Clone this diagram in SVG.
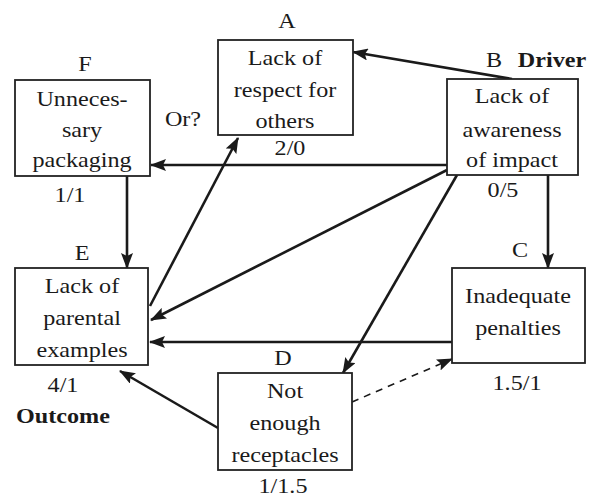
<svg xmlns="http://www.w3.org/2000/svg" width="590" height="500" viewBox="0 0 590 500">
  <style>
    .box { fill: #ffffff; stroke: #222; stroke-width: 1.8; }
    .t { font-family: 'Liberation Serif', 'DejaVu Serif', serif; font-size: 21px; fill: #1a1a1a; text-anchor: middle; }
    .b { font-weight: bold; }
    .edge { fill: none; stroke: #1a1a1a; stroke-width: 2.6; }
    .dash { fill: none; stroke: #1a1a1a; stroke-width: 1.6; stroke-dasharray: 7 6; }
  </style>
  <defs>
    <marker id="arrow" markerUnits="userSpaceOnUse" markerWidth="16" markerHeight="12" refX="15" refY="6" orient="auto">
      <path d="M0,0 L16,6 L0,12 L3,6 Z" fill="#1a1a1a"/>
    </marker>
  </defs>
  <rect width="590" height="500" fill="#ffffff"/>

  <g id="connectors">
    <line class="edge" x1="512" y1="79" x2="353" y2="52" marker-end="url(#arrow)"/>
    <line class="edge" x1="447" y1="165" x2="151" y2="165" marker-end="url(#arrow)"/>
    <line class="edge" x1="127" y1="176" x2="127" y2="268" marker-end="url(#arrow)"/>
    <line class="edge" x1="150" y1="306" x2="238" y2="138" marker-end="url(#arrow)"/>
    <line class="edge" x1="447" y1="170" x2="151" y2="320" marker-end="url(#arrow)"/>
    <line class="edge" x1="452" y1="342" x2="150" y2="342" marker-end="url(#arrow)"/>
    <line class="edge" x1="218" y1="428" x2="120" y2="371" marker-end="url(#arrow)"/>
    <line class="edge" x1="457" y1="175" x2="343" y2="373" marker-end="url(#arrow)"/>
    <line class="edge" x1="548" y1="175" x2="548" y2="268" marker-end="url(#arrow)"/>
    <line class="dash" x1="352" y1="402" x2="452" y2="359" marker-end="url(#arrow)"/>
    <text class="t" font-family="Liberation Serif, serif" transform="translate(183,126) scale(1.15 1)">Or?</text>
  </g>

  <g id="node-A" font-family="Liberation Serif, serif">
    <rect class="box" x="218" y="40" width="135" height="95"/>
    <text class="t" transform="translate(287,28) scale(1.15 1)">A</text>
    <text class="t" transform="translate(285,65) scale(1.15 1)">Lack of</text>
    <text class="t" transform="translate(285,97) scale(1.15 1)">respect for</text>
    <text class="t" transform="translate(285,128) scale(1.15 1)">others</text>
    <text class="t" transform="translate(290,155) scale(1.15 1)">2/0</text>
  </g>

  <g id="node-B">
    <rect class="box" x="447" y="79" width="131" height="96"/>
    <text class="t" transform="translate(494,67) scale(1.15 1)">B</text>
    <text class="t b" transform="translate(552,67) scale(1.15 1)">Driver</text>
    <text class="t" transform="translate(512,103) scale(1.15 1)">Lack of</text>
    <text class="t" transform="translate(512,137) scale(1.15 1)">awareness</text>
    <text class="t" transform="translate(512,167) scale(1.15 1)">of impact</text>
    <text class="t" transform="translate(503,197) scale(1.15 1)">0/5</text>
  </g>

  <g id="node-C">
    <rect class="box" x="452" y="268" width="133" height="95"/>
    <text class="t" transform="translate(520,257) scale(1.15 1)">C</text>
    <text class="t" transform="translate(518,303) scale(1.15 1)">Inadequate</text>
    <text class="t" transform="translate(518,335) scale(1.15 1)">penalties</text>
    <text class="t" transform="translate(517,390) scale(1.15 1)">1.5/1</text>
  </g>

  <g id="node-D">
    <rect class="box" x="218" y="373" width="134" height="97"/>
    <text class="t" transform="translate(283,365) scale(1.15 1)">D</text>
    <text class="t" transform="translate(285,398) scale(1.15 1)">Not</text>
    <text class="t" transform="translate(285,430) scale(1.15 1)">enough</text>
    <text class="t" transform="translate(285,462) scale(1.15 1)">receptacles</text>
    <text class="t" transform="translate(283,493) scale(1.15 1)">1/1.5</text>
  </g>

  <g id="node-E">
    <rect class="box" x="15" y="268" width="133" height="97"/>
    <text class="t" transform="translate(82,260) scale(1.15 1)">E</text>
    <text class="t" transform="translate(82,293) scale(1.15 1)">Lack of</text>
    <text class="t" transform="translate(82,325) scale(1.15 1)">parental</text>
    <text class="t" transform="translate(82,357) scale(1.15 1)">examples</text>
    <text class="t" transform="translate(63,392) scale(1.15 1)">4/1</text>
    <text class="t b" transform="translate(63,423) scale(1.15 1)">Outcome</text>
  </g>

  <g id="node-F">
    <rect class="box" x="15" y="80" width="135" height="96"/>
    <text class="t" transform="translate(85,71) scale(1.15 1)">F</text>
    <text class="t" transform="translate(82,106) scale(1.15 1)">Unneces-</text>
    <text class="t" transform="translate(82,137) scale(1.15 1)">sary</text>
    <text class="t" transform="translate(82,167) scale(1.15 1)">packaging</text>
    <text class="t" transform="translate(70,202) scale(1.15 1)">1/1</text>
  </g>
</svg>
